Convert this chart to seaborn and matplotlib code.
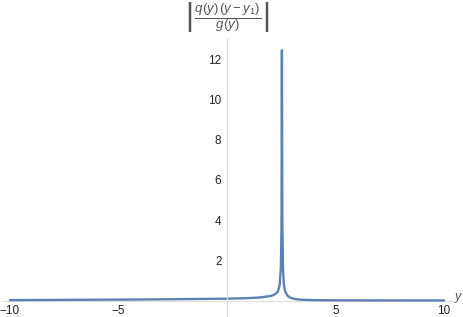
import matplotlib
matplotlib.use("Agg")
import matplotlib.pyplot as plt
import seaborn as sns
import pandas as pd
from matplotlib.ticker import MultipleLocator, FixedLocator

# curve samples
y_vals = [-10, -8, -6, -4, -2, 0, 1, 1.5, 2, 2.2, 2.35, 2.43, 2.48, 2.51, 2.53,
          2.55, 2.58, 2.62, 2.68, 2.78, 2.9, 3.1, 3.4, 4, 5, 7, 10]
f_vals = [0.02, 0.03, 0.04, 0.05, 0.07, 0.09, 0.12, 0.15, 0.22, 0.3, 0.45, 0.8,
          1.6, 3.5, 12.45, 4.0, 1.6, 0.8, 0.45, 0.25, 0.15, 0.08, 0.04, 0.02, 0.01, 0.005, 0.003]
x_ticks = [-10, -5, 5, 10]
y_ticks = [2, 4, 6, 8, 10, 12]

df = pd.DataFrame({"y": y_vals, "f": f_vals})

sns.set_style("white")
plt.rcParams["font.family"] = ["Liberation Sans", "DejaVu Sans"]
plt.rcParams["mathtext.fontset"] = "custom"
plt.rcParams["mathtext.it"] = "Liberation Sans:italic"
plt.rcParams["mathtext.rm"] = "Liberation Sans"

fig = plt.figure(figsize=(4.63, 3.17), dpi=100)
ax = fig.add_axes([2.4 / 463, 0.0, 450.3 / 463, 279 / 317])

sns.lineplot(data=df, x="y", y="f", ax=ax, color="#5E81B5", linewidth=1.7,
             estimator=None, sort=False)

ax.set_xlim(-10.35, 10.4)
ax.set_ylim(-0.82, 13.06)

for side in ["top", "right"]:
    ax.spines[side].set_visible(False)
ax.spines["left"].set_position(("data", 0))
ax.spines["bottom"].set_position(("data", 0))
for side in ["left", "bottom"]:
    ax.spines[side].set_color("#dddddd")
    ax.spines[side].set_linewidth(0.8)
ax.spines["bottom"].set_zorder(0)

ax.xaxis.set_major_locator(FixedLocator(x_ticks))
ax.yaxis.set_major_locator(FixedLocator(y_ticks))
ax.xaxis.set_minor_locator(MultipleLocator(1))
ax.yaxis.set_minor_locator(MultipleLocator(0.5))
ax.tick_params(axis="both", which="major", length=3, width=0.6, color="#d0d0d0",
               labelsize=8.5, labelcolor="#222222", pad=1)
ax.tick_params(axis="x", which="major", pad=0)
ax.tick_params(axis="both", which="minor", length=1.8, width=0.5, color="#e0e0e0")
ax.set_xticklabels(["\u221210", "\u22125", "5", "10"])
ax.set_yticklabels([str(t) for t in y_ticks])
ax.set_xlabel("")
ax.set_ylabel("")

fig.text(459 / 463, 1 - 298 / 317, "$y$", fontsize=9, color="#555555",
         ha="center", va="center")
fig.text(227 / 463, 1 - 17 / 317,
         r"$\left|\,\dfrac{q(y)\,(y-y_1)}{g(y)}\,\right|$",
         fontsize=9.5, color="#555555", ha="center", va="center")

fig.savefig("out.png", dpi=100)
